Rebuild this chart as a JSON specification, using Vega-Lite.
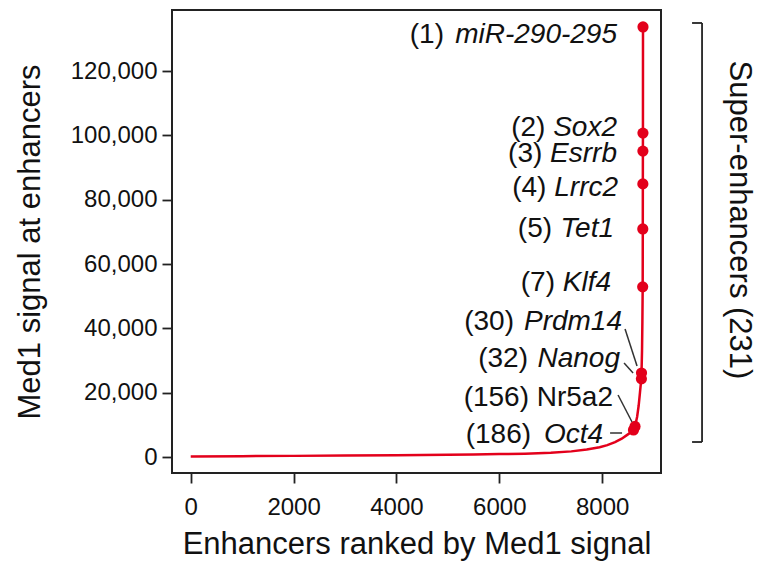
{
  "$schema": "https://vega.github.io/schema/vega-lite/v6.json",
  "width": 489,
  "height": 463,
  "autosize": {"type": "none"},
  "padding": {"left": 172, "top": 10, "right": 96, "bottom": 88},
  "background": "white",
  "datasets": {
    "curve": [
      {"order": 0, "signal": 150},
      {"order": 1000, "signal": 250},
      {"order": 2000, "signal": 350},
      {"order": 3000, "signal": 450},
      {"order": 4000, "signal": 560},
      {"order": 5000, "signal": 700},
      {"order": 5500, "signal": 790},
      {"order": 6000, "signal": 900},
      {"order": 6500, "signal": 1040},
      {"order": 7000, "signal": 1300},
      {"order": 7400, "signal": 1750},
      {"order": 7700, "signal": 2300},
      {"order": 7950, "signal": 3050},
      {"order": 8100, "signal": 3700},
      {"order": 8250, "signal": 4650},
      {"order": 8380, "signal": 5700},
      {"order": 8480, "signal": 6800},
      {"order": 8560, "signal": 7700},
      {"order": 8609, "signal": 8400},
      {"order": 8639, "signal": 9500},
      {"order": 8680, "signal": 12500},
      {"order": 8710, "signal": 16000},
      {"order": 8735, "signal": 20000},
      {"order": 8750, "signal": 22500},
      {"order": 8763, "signal": 24300},
      {"order": 8765, "signal": 26100},
      {"order": 8775, "signal": 33000},
      {"order": 8782, "signal": 42000},
      {"order": 8788, "signal": 52900},
      {"order": 8789, "signal": 62000},
      {"order": 8790, "signal": 70900},
      {"order": 8791, "signal": 84900},
      {"order": 8792, "signal": 95100},
      {"order": 8793, "signal": 100700},
      {"order": 8794, "signal": 133700}
    ],
    "genes": [
      {"gene": "miR-290-295", "se_rank": 1, "order": 8794, "signal": 133700, "label_order": 8289, "label_signal": 131043},
      {"gene": "Sox2", "se_rank": 2, "order": 8793, "signal": 100700, "label_order": 8289, "label_signal": 102130},
      {"gene": "Esrrb", "se_rank": 3, "order": 8792, "signal": 95100, "label_order": 8289, "label_signal": 94046},
      {"gene": "Lrrc2", "se_rank": 4, "order": 8791, "signal": 84900, "label_order": 8309, "label_signal": 83476},
      {"gene": "Tet1", "se_rank": 5, "order": 8790, "signal": 70900, "label_order": 8231, "label_signal": 70729},
      {"gene": "Klf4", "se_rank": 7, "order": 8788, "signal": 52900, "label_order": 8172, "label_signal": 53941},
      {"gene": "Prdm14", "se_rank": 30, "order": 8765, "signal": 26100, "label_order": 8386, "label_signal": 41816},
      {"gene": "Nanog", "se_rank": 32, "order": 8763, "signal": 24300, "label_order": 8347, "label_signal": 30313},
      {"gene": "Nr5a2", "se_rank": 156, "order": 8639, "signal": 9500, "label_order": 8211, "label_signal": 18188},
      {"gene": "Oct4", "se_rank": 186, "order": 8609, "signal": 8400, "label_order": 8017, "label_signal": 6995}
    ],
    "leaders": [
      {"gene": "Prdm14", "from_order": 8445, "from_signal": 39795, "to_order": 8678, "to_signal": 28291},
      {"gene": "Nanog", "from_order": 8426, "from_signal": 29224, "to_order": 8601, "to_signal": 26115},
      {"gene": "Nr5a2", "from_order": 8309, "from_signal": 19276, "to_order": 8581, "to_signal": 10882},
      {"gene": "Oct4", "from_order": 8154, "from_signal": 7462, "to_order": 8387, "to_signal": 7462}
    ]
  },
  "layer": [
    {
      "data": {"name": "curve"},
      "mark": {"type": "line", "color": "#e3001b", "strokeWidth": 2.5},
      "encoding": {
        "x": {
          "field": "order", "type": "quantitative",
          "scale": {"domain": [-364, 9144], "nice": false, "zero": false},
          "axis": {
            "title": "Enhancers ranked by Med1 signal",
            "values": [0, 2000, 4000, 6000, 8000],
            "format": "d"
          }
        },
        "y": {
          "field": "signal", "type": "quantitative",
          "scale": {"domain": [-4974, 138970], "nice": false, "zero": false},
          "axis": {
            "title": "Med1 signal at enhancers",
            "values": [0, 20000, 40000, 60000, 80000, 100000, 120000],
            "format": ",d",
            "labelPadding": 5,
            "titlePadding": 24
          }
        }
      }
    },
    {
      "data": {"name": "leaders"},
      "mark": {"type": "rule", "color": "#333333", "strokeWidth": 1.5},
      "encoding": {
        "x": {"field": "from_order", "type": "quantitative"},
        "y": {"field": "from_signal", "type": "quantitative"},
        "x2": {"field": "to_order"},
        "y2": {"field": "to_signal"}
      }
    },
    {
      "data": {"name": "genes"},
      "mark": {"type": "circle", "color": "#e3001b", "opacity": 1, "size": 125},
      "encoding": {
        "x": {"field": "order", "type": "quantitative"},
        "y": {"field": "signal", "type": "quantitative"}
      }
    },
    {
      "data": {"name": "genes"},
      "transform": [{"calculate": "'(' + datum.se_rank + ')'", "as": "tag"}],
      "mark": {
        "type": "text", "align": "right", "baseline": "middle",
        "fontSize": 28, "color": "#111111",
        "dx": {"expr": "-({'miR-290-295': 173, 'Sox2': 71.6, 'Esrrb': 74.7, 'Lrrc2': 71.6, 'Tet1': 62, 'Klf4': 56, 'Prdm14': 108, 'Nanog': 92, 'Nr5a2': 84, 'Oct4': 72})[datum.gene]"}
      },
      "encoding": {
        "x": {"field": "label_order", "type": "quantitative"},
        "y": {"field": "label_signal", "type": "quantitative"},
        "text": {"field": "tag"}
      }
    },
    {
      "data": {"name": "genes"},
      "transform": [{"filter": "datum.gene !== 'Nr5a2'"}],
      "mark": {
        "type": "text", "align": "right", "baseline": "middle",
        "fontSize": 28, "fontStyle": "italic", "color": "#111111"
      },
      "encoding": {
        "x": {"field": "label_order", "type": "quantitative"},
        "y": {"field": "label_signal", "type": "quantitative"},
        "text": {"field": "gene"}
      }
    },
    {
      "data": {"name": "genes"},
      "transform": [{"filter": "datum.gene === 'Nr5a2'"}],
      "mark": {
        "type": "text", "align": "right", "baseline": "middle",
        "fontSize": 28, "color": "#111111"
      },
      "encoding": {
        "x": {"field": "label_order", "type": "quantitative"},
        "y": {"field": "label_signal", "type": "quantitative"},
        "text": {"field": "gene"}
      }
    },
    {
      "data": {"values": [{}]},
      "mark": {"type": "rule", "color": "#222222", "strokeWidth": 1.8},
      "encoding": {
        "x": {"datum": 9942, "type": "quantitative"},
        "y": {"datum": 134930, "type": "quantitative"},
        "y2": {"datum": 4663}
      }
    },
    {
      "data": {"values": [{}]},
      "mark": {"type": "rule", "color": "#222222", "strokeWidth": 1.8},
      "encoding": {
        "x": {"datum": 9748, "type": "quantitative"},
        "x2": {"datum": 9942},
        "y": {"datum": 134930, "type": "quantitative"}
      }
    },
    {
      "data": {"values": [{}]},
      "mark": {"type": "rule", "color": "#222222", "strokeWidth": 1.8},
      "encoding": {
        "x": {"datum": 9748, "type": "quantitative"},
        "x2": {"datum": 9942},
        "y": {"datum": 4663, "type": "quantitative"}
      }
    },
    {
      "data": {"values": [{}]},
      "mark": {
        "type": "text", "angle": 90, "align": "center", "baseline": "middle",
        "fontSize": 31, "color": "#111111"
      },
      "encoding": {
        "x": {"datum": 10661, "type": "quantitative"},
        "y": {"datum": 73680, "type": "quantitative"},
        "text": {"value": "Super-enhancers (231)"}
      }
    }
  ],
  "config": {
    "font": "Liberation Sans",
    "view": {"stroke": "#222222", "strokeWidth": 2},
    "axis": {
      "grid": false,
      "domain": false,
      "ticks": true,
      "tickSize": 10,
      "tickWidth": 1.8,
      "tickColor": "#222222",
      "labelFontSize": 24,
      "labelColor": "#111111",
      "labelFlush": false,
      "labelOverlap": false,
      "titleFontSize": 31,
      "titleFontWeight": "normal",
      "titleColor": "#111111"
    },
    "axisX": {"labelPadding": 12, "titlePadding": 10}
  }
}
